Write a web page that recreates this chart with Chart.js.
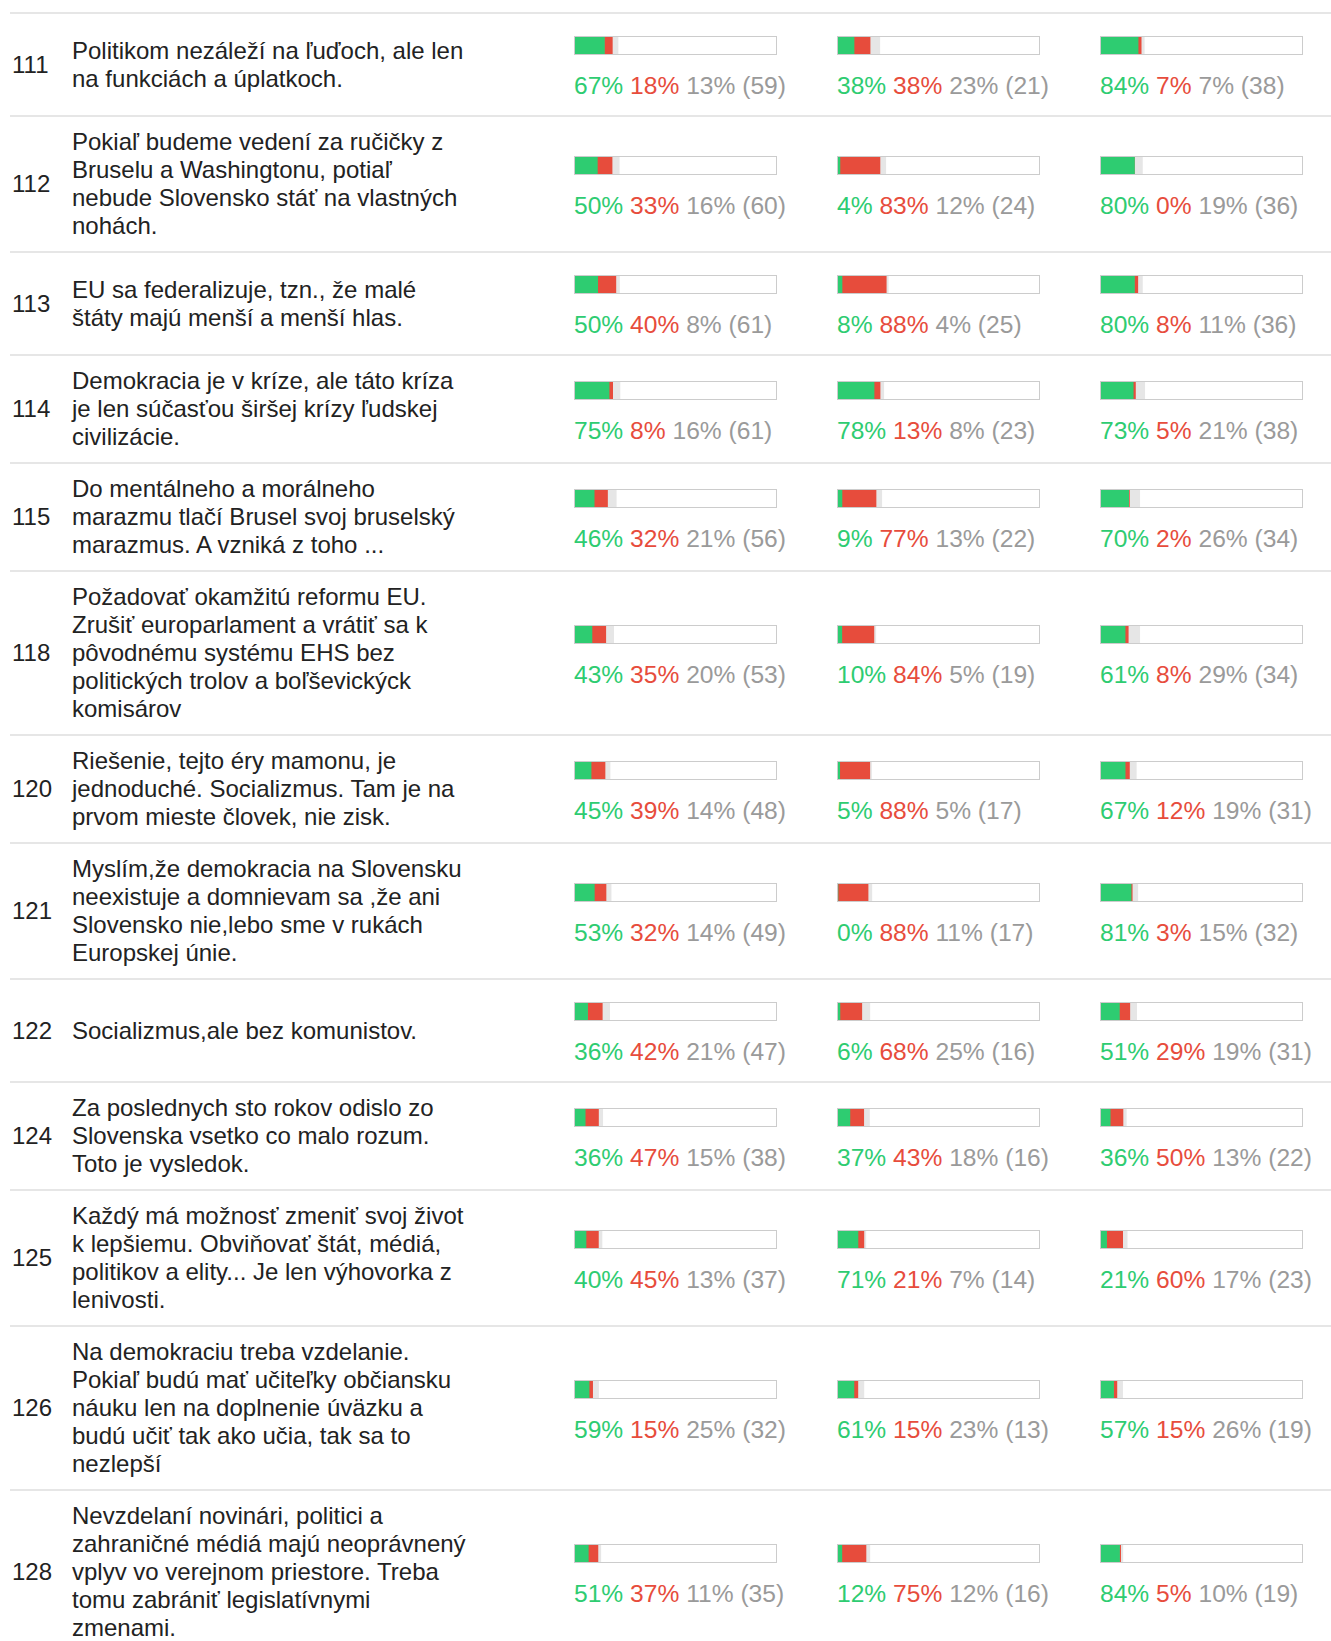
<!DOCTYPE html>
<html>
<head>
<meta charset="utf-8">
<script src="https://cdn.jsdelivr.net/npm/chart.js@4.4.1/dist/chart.umd.min.js"></script>
<style>
  body { margin: 0; background: #fff; font-family: "Liberation Sans", Arial, sans-serif; color: #222; overflow: hidden; }
  #table { margin-left: 10px; padding-top: 12px; }
  .row { display: flex; align-items: center; border-top: 2px solid #e6e6e6; padding: 11px 0; }
  .row > div { flex: none; }
  .id { width: 62px; padding-left: 2px; box-sizing: border-box; font-size: 24px; line-height: 28px; }
  .q { width: 502px; font-size: 24px; line-height: 28px; white-space: nowrap; }
  .cell { width: 263px; height: 79px; position: relative; }
  .bar { position: absolute; top: 11px; left: 0; width: 201px; height: 17px; border: 1px solid #cccccc; }
  .bar canvas { display: block; }
  .lbl { position: absolute; top: 47px; left: 0; font-size: 24.6px; line-height: 28px; white-space: nowrap; color: #9a9a9a; }
  .yes { color: #2ecc71; }
  .no { color: #e74c3c; }
</style>
</head>
<body>
<div id="table"></div>
<script>
// statement numbers and texts (one entry per line)
const ids = [111, 112, 113, 114, 115, 118, 120, 121, 122, 124, 125, 126, 128];
const questions = [
  ['Politikom nezáleží na ľuďoch, ale len', 'na funkciách a úplatkoch.'],
  ['Pokiaľ budeme vedení za ručičky z', 'Bruselu a Washingtonu, potiaľ', 'nebude Slovensko stáť na vlastných', 'nohách.'],
  ['EU sa federalizuje, tzn., že malé', 'štáty majú menší a menší hlas.'],
  ['Demokracia je v kríze, ale táto kríza', 'je len súčasťou širšej krízy ľudskej', 'civilizácie.'],
  ['Do mentálneho a morálneho', 'marazmu tlačí Brusel svoj bruselský', 'marazmus. A vzniká z toho ...'],
  ['Požadovať okamžitú reformu EU.', 'Zrušiť europarlament a vrátiť sa k', 'pôvodnému systému EHS bez', 'politických trolov a boľševickýck', 'komisárov'],
  ['Riešenie, tejto éry mamonu, je', 'jednoduché. Socializmus. Tam je na', 'prvom mieste človek, nie zisk.'],
  ['Myslím,že demokracia na Slovensku', 'neexistuje a domnievam sa ,že ani', 'Slovensko nie,lebo sme v rukách', 'Europskej únie.'],
  ['Socializmus,ale bez komunistov.'],
  ['Za poslednych sto rokov odislo zo', 'Slovenska vsetko co malo rozum.', 'Toto je vysledok.'],
  ['Každý má možnosť zmeniť svoj život', 'k lepšiemu. Obviňovať štát, médiá,', 'politikov a elity... Je len výhovorka z', 'lenivosti.'],
  ['Na demokraciu treba vzdelanie.', 'Pokiaľ budú mať učiteľky občiansku', 'náuku len na doplnenie úväzku a', 'budú učiť tak ako učia, tak sa to', 'nezlepší'],
  ['Nevzdelaní novinári, politici a', 'zahraničné médiá majú neoprávnený', 'vplyv vo verejnom priestore. Treba', 'tomu zabrániť legislatívnymi', 'zmenami.']
];

// group 1
const g1Yes   = [67, 50, 50, 75, 46, 43, 45, 53, 36, 36, 40, 59, 51];
const g1No    = [18, 33, 40,  8, 32, 35, 39, 32, 42, 47, 45, 15, 37];
const g1Other = [13, 16,  8, 16, 21, 20, 14, 14, 21, 15, 13, 25, 11];
const g1Count = [59, 60, 61, 61, 56, 53, 48, 49, 47, 38, 37, 32, 35];

// group 2
const g2Yes   = [38,  4,  8, 78,  9, 10,  5,  0,  6, 37, 71, 61, 12];
const g2No    = [38, 83, 88, 13, 77, 84, 88, 88, 68, 43, 21, 15, 75];
const g2Other = [23, 12,  4,  8, 13,  5,  5, 11, 25, 18,  7, 23, 12];
const g2Count = [21, 24, 25, 23, 22, 19, 17, 17, 16, 16, 14, 13, 16];

// group 3
const g3Yes   = [84, 80, 80, 73, 70, 61, 67, 81, 51, 36, 21, 57, 84];
const g3No    = [ 7,  0,  8,  5,  2,  8, 12,  3, 29, 50, 60, 15,  5];
const g3Other = [ 7, 19, 11, 21, 26, 29, 19, 15, 19, 13, 17, 26, 10];
const g3Count = [38, 36, 36, 38, 34, 34, 31, 32, 31, 22, 23, 19, 19];

// respondents in each group = full length of a bar
const groupTotals = [270, 100, 173];

const groups = [
  { yes: g1Yes, no: g1No, other: g1Other, count: g1Count },
  { yes: g2Yes, no: g2No, other: g2Other, count: g2Count },
  { yes: g3Yes, no: g3No, other: g3Other, count: g3Count }
];

function drawBar(canvas, yes, no, other, n, max) {
  new Chart(canvas, {
    type: 'bar',
    data: {
      labels: [''],
      datasets: [
        { data: [yes * n / 100], backgroundColor: '#2ecc71' },
        { data: [no * n / 100], backgroundColor: '#e74c3c' },
        { data: [other * n / 100], backgroundColor: '#e6e6e6' }
      ]
    },
    options: {
      indexAxis: 'y',
      responsive: false,
      animation: false,
      events: [],
      layout: { padding: 0 },
      datasets: { bar: { barPercentage: 1, categoryPercentage: 1, borderWidth: 0 } },
      scales: {
        x: { stacked: true, min: 0, max: max, display: false },
        y: { stacked: true, display: false }
      },
      plugins: { legend: { display: false }, tooltip: { enabled: false } }
    }
  });
}

const table = document.getElementById('table');
ids.forEach((id, i) => {
  const row = document.createElement('div');
  row.className = 'row';
  row.innerHTML = '<div class="id">' + id + '</div><div class="q">' + questions[i].join('<br>') + '</div>';
  groups.forEach((g, k) => {
    const cell = document.createElement('div');
    cell.className = 'cell';
    if (k === 2) cell.style.width = '220px';
    const box = document.createElement('div');
    box.className = 'bar';
    const canvas = document.createElement('canvas');
    canvas.width = 201;
    canvas.height = 17;
    box.appendChild(canvas);
    cell.appendChild(box);
    const lbl = document.createElement('div');
    lbl.className = 'lbl';
    lbl.innerHTML = '<span class="yes">' + g.yes[i] + '%</span> <span class="no">' + g.no[i] + '%</span> ' +
      g.other[i] + '% (' + g.count[i] + ')';
    cell.appendChild(lbl);
    row.appendChild(cell);
    drawBar(canvas, g.yes[i], g.no[i], g.other[i], g.count[i], groupTotals[k]);
  });
  table.appendChild(row);
});
</script>
</body>
</html>
